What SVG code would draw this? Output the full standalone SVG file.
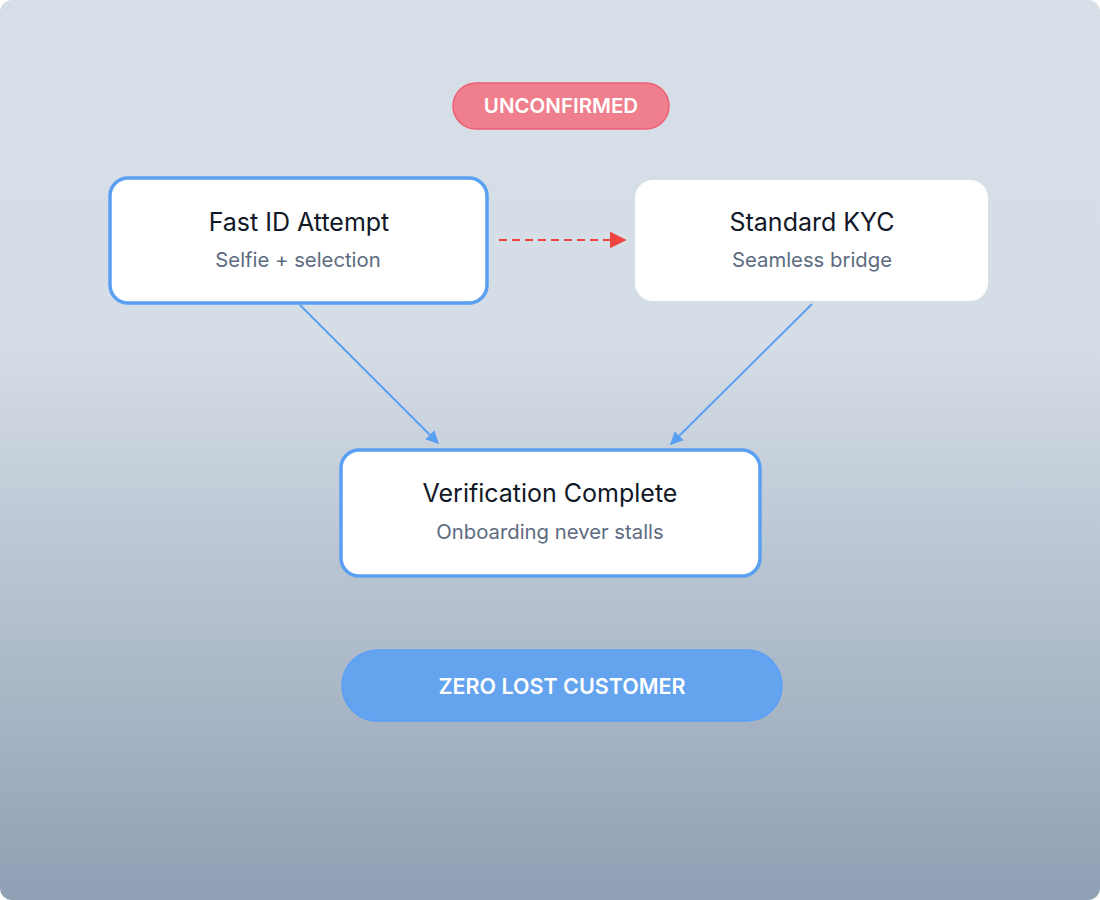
<svg xmlns="http://www.w3.org/2000/svg" width="1100" height="900" viewBox="0 0 1100 900">
<defs>
<linearGradient id="bg" x1="0" y1="0" x2="0" y2="1">
<stop offset="0" stop-color="#d6dee7"/>
<stop offset="0.38" stop-color="#d5dde6"/>
<stop offset="1" stop-color="#8fa0b4"/>
</linearGradient>
<marker id="ar" viewBox="0 0 10 10" refX="9" refY="5" markerWidth="17" markerHeight="17" markerUnits="userSpaceOnUse" orient="auto">
<path d="M0,0 L10,5 L0,10 z" fill="#ef4444"/>
</marker>
<marker id="ab2" viewBox="0 0 10 10" refX="9" refY="5" markerWidth="13" markerHeight="13" markerUnits="userSpaceOnUse" orient="auto">
<path d="M0,0 L10,5 L0,10 z" fill="#5aa0f2"/>
</marker>
</defs>
<style>
.title{font-family:Inter,"Liberation Sans",sans-serif;font-size:25px;fill:#111827;text-anchor:middle}
.sub{font-family:Inter,"Liberation Sans",sans-serif;font-size:20.3px;fill:#5c6b80;text-anchor:middle}
.node{fill:#ffffff}
.hl{stroke:#5aa0f2;stroke-width:3.5}
.pill{font-family:Inter,"Liberation Sans",sans-serif;font-weight:600;fill:#ffffff;text-anchor:middle}
</style>
<rect x="0" y="0" width="1100" height="900" rx="12" fill="url(#bg)"/>
<g id="connectors">
<line x1="499" y1="240" x2="625" y2="240" stroke="#ef4444" stroke-width="2" stroke-dasharray="8,5" marker-end="url(#ar)"/>
<line x1="300" y1="305" x2="438" y2="443" stroke="#5aa0f2" stroke-width="2" marker-end="url(#ab2)"/>
<line x1="812" y1="304" x2="671" y2="444" stroke="#5aa0f2" stroke-width="2" marker-end="url(#ab2)"/>
</g>
<g id="unconfirmed">
<rect x="453" y="83" width="216" height="46" rx="23" fill="#f07f8e" stroke="#ee5f72" stroke-width="1.5"/>
<text class="pill" x="561" y="113" font-size="20.5">UNCONFIRMED</text>
</g>
<g id="fast-id">
<rect class="node hl" x="110" y="178" width="377" height="125" rx="18"/>
<text class="title" x="299" y="231">Fast ID Attempt</text>
<text class="sub" x="298" y="267">Selfie + selection</text>
</g>
<g id="standard-kyc">
<rect class="node" x="635" y="180" width="353" height="121" rx="18"/>
<text class="title" x="812" y="231">Standard KYC</text>
<text class="sub" x="812" y="267">Seamless bridge</text>
</g>
<g id="verification">
<rect class="node hl" x="341" y="450" width="419" height="126" rx="18"/>
<text class="title" x="550" y="502">Verification Complete</text>
<text class="sub" x="550" y="539">Onboarding never stalls</text>
</g>
<g id="zero-lost">
<rect x="342" y="650" width="440" height="71" rx="35.5" fill="#64a3ee" stroke="#5aa0f7" stroke-width="1.5"/>
<text class="pill" x="562" y="694" font-size="21.5" font-weight="500">ZERO LOST CUSTOMER</text>
</g>
</svg>
